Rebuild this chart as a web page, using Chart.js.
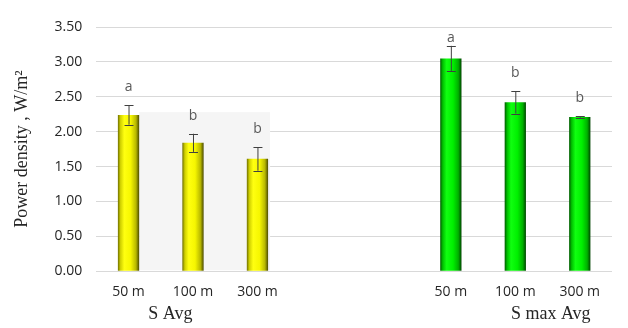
<!DOCTYPE html>
<html>
<head>
<meta charset="utf-8">
<script src="https://cdn.jsdelivr.net/npm/chart.js@4"></script>
<style>
    html, body { margin: 0; padding: 0; background: #fff; }
    #wrap { width: 628px; height: 328px; }
</style>
</head>
<body>
<div id="wrap"><canvas id="power_density" width="628" height="328"></canvas></div>
<script>
// categories: 3 distances per group, two empty slots between the groups
const categories = ['50 m', '100 m', '300 m', '', '', '50 m', '100 m', '300 m'];
const groups = ['S Avg', 'S max Avg'];

const sAvg = [2.24, 1.84, 1.61];
const sAvgErr = [0.14, 0.13, 0.17];
const sAvgLetters = ['a', 'b', 'b'];

const sMaxAvg = [3.05, 2.42, 2.21];
const sMaxAvgErr = [0.18, 0.16, 0.01];
const sMaxAvgLetters = ['a', 'b', 'b'];

const yTicks = [0, 0.5, 1, 1.5, 2, 2.5, 3, 3.5];

const BAR_PCT = 0.33;

document.addEventListener('DOMContentLoaded', function () {
    const ctx = document.getElementById('power_density');

    const pad = function (arr, before, after) {
        return Array(before).fill(null).concat(arr, Array(after).fill(null));
    };

    // cylinder-like shading across each bar
    function shade(stops) {
        return function (c) {
            const chart = c.chart;
            const xs = chart.scales.x;
            if (!xs || !chart.chartArea) return stops[2][1];
            const cx = xs.getPixelForValue(c.dataIndex);
            const w = (xs.width / categories.length) * BAR_PCT;
            const g = chart.ctx.createLinearGradient(cx - w / 2, 0, cx + w / 2, 0);
            stops.forEach(function (s) { g.addColorStop(s[0], s[1]); });
            return g;
        };
    }

    const yellow = [[0, '#6e6e00'], [0.12, '#d0d000'], [0.3, '#ffff10'], [0.6, '#f6f600'], [0.85, '#b8b800'], [1, '#4a4a00']];
    const green = [[0, '#005a00'], [0.12, '#00c000'], [0.3, '#10ff10'], [0.6, '#00f000'], [0.85, '#00b000'], [1, '#004400']];

    const datasets = [
        {
            label: groups[0],
            data: pad(sAvg, 0, 5),
            err: pad(sAvgErr, 0, 5),
            letters: pad(sAvgLetters, 0, 5),
            backgroundColor: shade(yellow)
        },
        {
            label: groups[1],
            data: pad(sMaxAvg, 5, 0),
            err: pad(sMaxAvgErr, 5, 0),
            letters: pad(sMaxAvgLetters, 5, 0),
            backgroundColor: shade(green)
        }
    ];

    // light grey panel behind the S Avg bars
    const panelPlugin = {
        id: 'panel',
        beforeDatasetsDraw: function (chart) {
            const xs = chart.scales.x, ys = chart.scales.y, c = chart.ctx;
            const w = (xs.width / categories.length) * BAR_PCT;
            const x0 = xs.getPixelForValue(0) + w / 2;
            const x1 = xs.getPixelForValue(2) + w / 2 + 2;
            const y0 = ys.getPixelForValue(2.28);
            const y1 = ys.getPixelForValue(0);
            c.save();
            c.fillStyle = '#f5f5f5';
            c.fillRect(x0, y0, x1 - x0, y1 - y0 - 1);
            c.restore();
        }
    };

    // error bars, significance letters and group names
    const annotatePlugin = {
        id: 'annotate',
        afterDatasetsDraw: function (chart) {
            const c = chart.ctx, ys = chart.scales.y, xs = chart.scales.x;
            c.save();
            chart.data.datasets.forEach(function (ds, di) {
                const meta = chart.getDatasetMeta(di);
                meta.data.forEach(function (bar, i) {
                    const v = ds.data[i];
                    if (v === null) return;
                    const e = ds.err[i];
                    const yt = ys.getPixelForValue(v + e);
                    const yb = ys.getPixelForValue(v - e);
                    c.strokeStyle = '#404040';
                    c.lineWidth = 1;
                    c.beginPath();
                    c.moveTo(bar.x + 0.5, yt);
                    c.lineTo(bar.x + 0.5, yb);
                    c.moveTo(bar.x - 4, Math.round(yt) + 0.5);
                    c.lineTo(bar.x + 5, Math.round(yt) + 0.5);
                    c.moveTo(bar.x - 4, Math.round(yb) + 0.5);
                    c.lineTo(bar.x + 5, Math.round(yb) + 0.5);
                    c.stroke();

                    const ly = Math.max(yt - 18, chart.chartArea.top + 11);
                    c.fillStyle = '#595959';
                    c.font = '14px "Open Sans"';
                    c.textAlign = 'center';
                    c.textBaseline = 'middle';
                    c.fillText(ds.letters[i], bar.x, ly);
                });
            });

            c.fillStyle = '#262626';
            c.font = '18px "Liberation Serif"';
            c.textAlign = 'center';
            c.textBaseline = 'middle';
            const gy = chart.chartArea.bottom + 43;
            c.fillText(groups[0], xs.getPixelForValue(0.65), gy);
            c.fillText(groups[1], xs.getPixelForValue(6.55), gy);
            c.restore();
        }
    };

    new Chart(ctx, {
        type: 'bar',
        data: { labels: categories, datasets: datasets },
        options: {
            responsive: false,
            animation: false,
            grouped: false,
            categoryPercentage: 1,
            barPercentage: BAR_PCT,
            layout: { padding: { top: 27, right: 16, bottom: 24, left: 11 } },
            plugins: {
                legend: { display: false },
                tooltip: { enabled: false }
            },
            scales: {
                x: {
                    grid: { display: false },
                    border: { display: false },
                    ticks: {
                        color: '#262626',
                        padding: 4,
                        font: { family: 'Open Sans', size: 14 }
                    }
                },
                y: {
                    min: 0,
                    max: 3.5,
                    afterBuildTicks: function (axis) {
                        axis.ticks = yTicks.map(function (v) { return { value: v }; });
                    },
                    grid: { color: '#d9d9d9', drawTicks: false },
                    border: { display: false },
                    ticks: {
                        color: '#262626',
                        padding: 14,
                        font: { family: 'Open Sans', size: 14 },
                        callback: function (v) { return Number(v).toFixed(2); }
                    },
                    title: {
                        display: true,
                        text: 'Power density , W/m²',
                        color: '#262626',
                        font: { family: 'Liberation Serif', size: 18 },
                        padding: { top: 0, bottom: 8 }
                    }
                }
            }
        },
        plugins: [panelPlugin, annotatePlugin]
    });
});
</script>
</body>
</html>
